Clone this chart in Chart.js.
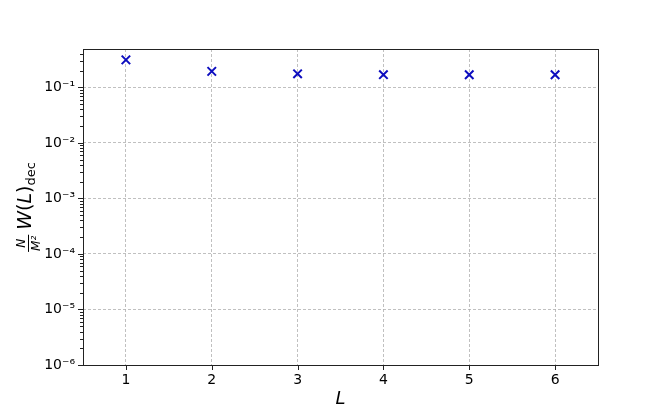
<!DOCTYPE html>
<html>
<head>
<meta charset="utf-8">
<script src="https://cdn.jsdelivr.net/npm/chart.js@4"></script>
<style>
  body { margin: 0; background: #fff; }
  canvas { display: block; }
</style>
</head>
<body>
<canvas id="myChart" width="664" height="411"></canvas>
<script>
'use strict';
// values
var xValues = [1, 2, 3, 4, 5, 6];
var wValues = [0.312, 0.194, 0.175, 0.169, 0.168, 0.168];
var xTicks = [1, 2, 3, 4, 5, 6];
var yExponents = [-6, -5, -4, -3, -2, -1];
var yMin = 1e-6;
var yMax = 0.49;

var supers = {'-': '\u207B', '0': '\u2070', '1': '\u00B9', '2': '\u00B2', '3': '\u00B3',
    '4': '\u2074', '5': '\u2075', '6': '\u2076', '7': '\u2077', '8': '\u2078', '9': '\u2079'};

function powLabel(e) {
    return '10' + String(e).split('').map(function (c) { return supers[c]; }).join('');
}

function isMajor(v) {
    var l = Math.log10(v);
    return Math.abs(l - Math.round(l)) < 1e-9;
}

// major + minor log ticks
var yTickValues = [];
yExponents.forEach(function (e) {
    for (var k = 1; k <= 9; k++) {
        var v = k * Math.pow(10, e);
        if (v <= yMax) yTickValues.push(v);
    }
});

var frame = {
    id: 'frame',
    afterDraw: function (chart) {
        var ctx = chart.ctx;
        var a = chart.chartArea;
        var ys = chart.scales.y, xs = chart.scales.x;
        ctx.save();
        ctx.strokeStyle = '#222';
        ctx.lineWidth = 1;
        // tick marks
        ctx.beginPath();
        yTickValues.forEach(function (v) {
            var py = Math.round(ys.getPixelForValue(v)) + 0.5;
            var len = isMajor(v) ? 5 : 3;
            ctx.moveTo(a.left - len, py);
            ctx.lineTo(a.left, py);
        });
        xTicks.forEach(function (v) {
            var px = Math.round(xs.getPixelForValue(v)) + 0.5;
            ctx.moveTo(px, a.bottom);
            ctx.lineTo(px, a.bottom + 5);
        });
        ctx.stroke();
        ctx.strokeRect(Math.round(a.left) + 0.5, Math.round(a.top) + 0.5,
            Math.round(a.right - a.left), Math.round(a.bottom - a.top));

        // x title
        ctx.fillStyle = '#000';
        ctx.font = 'italic 18px "DejaVu Sans"';
        ctx.textAlign = 'center';
        ctx.textBaseline = 'alphabetic';
        ctx.fillText('L', (a.left + a.right) / 2, 404);

        // y title: N/M^2 W(L)_dec, rotated
        ctx.translate(35, (a.top + a.bottom) / 2);
        ctx.rotate(-Math.PI / 2);
        var parts = [
            {t: 'W', f: 'italic 19px "DejaVu Sans"', dy: 0},
            {t: '(', f: '19px "DejaVu Sans"', dy: 0},
            {t: 'L', f: 'italic 19px "DejaVu Sans"', dy: 0},
            {t: ')', f: '19px "DejaVu Sans"', dy: 0},
            {t: 'dec', f: '13px "DejaVu Sans"', dy: 4}
        ];
        ctx.font = 'italic 12px "DejaVu Sans"';
        var fracW = ctx.measureText('M\u00B2').width + 2;
        var total = fracW + 5;
        parts.forEach(function (p) { ctx.font = p.f; p.w = ctx.measureText(p.t).width; total += p.w; });
        var x0 = -total / 2;
        ctx.textAlign = 'center';
        ctx.font = 'italic 12px "DejaVu Sans"';
        ctx.fillText('N', x0 + fracW / 2, -10);
        ctx.fillText('M\u00B2', x0 + fracW / 2, 5);
        ctx.fillRect(x0, -7, fracW, 1);
        ctx.textAlign = 'left';
        var cx = x0 + fracW + 5;
        parts.forEach(function (p) {
            ctx.font = p.f;
            ctx.fillText(p.t, cx, -4 + p.dy);
            cx += p.w;
        });
        ctx.restore();
    }
};

var ctx = document.getElementById('myChart');
var myChart = new Chart(ctx, {
    type: 'scatter',
    data: {
        datasets: [{
            data: xValues.map(function (x, i) { return {x: x, y: wValues[i]}; }),
            showLine: false,
            pointStyle: 'crossRot',
            pointRadius: 6,
            pointHoverRadius: 6,
            borderWidth: 2,
            borderColor: '#0c0cbf',
            backgroundColor: '#0c0cbf'
        }]
    },
    options: {
        responsive: false,
        animation: false,
        events: [],
        layout: { padding: { top: 49, right: 66, left: 0, bottom: 0 } },
        plugins: { legend: { display: false }, tooltip: { enabled: false } },
        scales: {
            x: {
                type: 'linear',
                min: 0.5,
                max: 6.5,
                afterBuildTicks: function (scale) {
                    scale.ticks = xTicks.map(function (v) { return {value: v}; });
                },
                afterFit: function (scale) { scale.height = 46; },
                border: { display: false, dash: [3, 2] },
                grid: { color: '#b0b0b0', lineWidth: 0.8, drawTicks: false },
                ticks: {
                    padding: 7,
                    color: '#000',
                    font: { family: '"DejaVu Sans"', size: 14 },
                    maxRotation: 0
                }
            },
            y: {
                type: 'logarithmic',
                min: yMin,
                max: yMax,
                afterBuildTicks: function (scale) {
                    scale.ticks = yTickValues.map(function (v) { return {value: v, major: isMajor(v)}; });
                },
                afterFit: function (scale) { scale.width = 83; },
                border: { display: false, dash: [3, 2] },
                grid: {
                    color: function (c) { return c.tick && isMajor(c.tick.value) ? '#b0b0b0' : 'rgba(0,0,0,0)'; },
                    lineWidth: 0.8,
                    drawTicks: false
                },
                ticks: {
                    padding: 8,
                    color: '#000',
                    autoSkip: false,
                    font: { family: '"DejaVu Sans"', size: 14 },
                    callback: function (v) {
                        return isMajor(v) ? powLabel(Math.round(Math.log10(v))) : '';
                    }
                }
            }
        }
    },
    plugins: [frame]
});
</script>
</body>
</html>
